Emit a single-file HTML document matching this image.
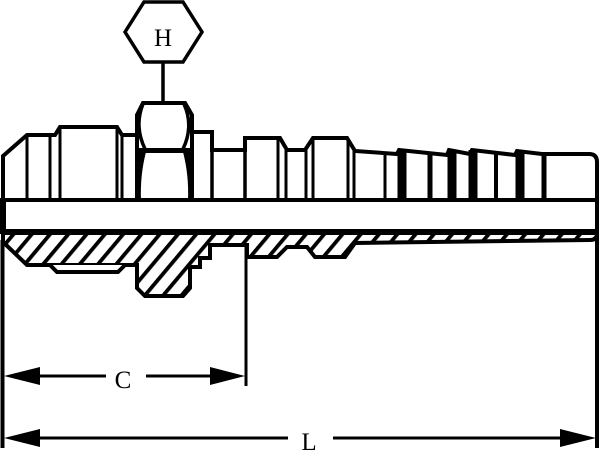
<!DOCTYPE html>
<html>
<head>
<meta charset="utf-8">
<style>
  html,body{margin:0;padding:0;background:#fff;}
  svg{display:block;}
  text{font-family:"Liberation Serif", serif;fill:#000;}
</style>
</head>
<body>
<svg width="600" height="459" viewBox="0 0 600 459" xmlns="http://www.w3.org/2000/svg">
  <defs>
    <pattern id="hatch" patternUnits="userSpaceOnUse" width="14" height="10" patternTransform="rotate(40)">
      <rect x="5" y="-1" width="3.8" height="12" fill="#000"/>
    </pattern>
  </defs>
  <rect x="0" y="0" width="600" height="459" fill="#fff"/>

  <!-- H hexagon label -->
  <polygon points="125,32 144,2 183,2 202,32 183,62 144,62" fill="#fff" stroke="#000" stroke-width="3.5" stroke-linejoin="miter"/>
  <text x="163" y="46" font-size="25" text-anchor="middle">H</text>
  <line x1="163" y1="62" x2="163" y2="103" stroke="#000" stroke-width="3.5"/>

  <!-- Lower sectioned (hatched) half -->
  <path d="M3,233 L3,242 L27,265 L137,265 L137,288 L145,296 L183,296 L190,288 L190,267 L200,267 L200,258 L210,258 L210,245 L247,245 L247,257 L277,257 L287,247 L307,247 L315,257 L345,257 L355,243 L590,240 Q597,240 597,234 L597,233 Z"
        fill="url(#hatch)" stroke="#000" stroke-width="4" stroke-linejoin="miter"/>
  <!-- thread relief below -->
  <path d="M50,265 L57,272 L118,272 L125,265" fill="#fff" stroke="#000" stroke-width="4"/>

  <!-- Upper outline -->
  <path d="M3,233 L3,156 L27,135 L55,135 L60,127 L117,127 L122,135 L137,135 L137,115 L143,103 L185,103 L192,115 L192,132 L212,132 L212,150 L245,150 L245,138 L280,138 L287,150 L305,150 L313,138 L347,138 L355,151 L397,154 L399,150 L447,155 L449,150 L470,154 L472,150 L515,155 L517,151 L542,154 L589,154 Q597,154 597,162 L597,234"
        fill="none" stroke="#000" stroke-width="4" stroke-linejoin="miter"/>

  <!-- bore lines -->
  <line x1="3" y1="200" x2="597" y2="200" stroke="#000" stroke-width="4"/>
  <line x1="0" y1="231.5" x2="597" y2="231.5" stroke="#000" stroke-width="5"/>
  <rect x="0" y="198" width="6" height="36" fill="#000"/>

  <!-- vertical lines upper half -->
  <g stroke="#000">
    <line x1="27" y1="135" x2="27" y2="200" stroke-width="3"/>
    <line x1="50" y1="135" x2="50" y2="200" stroke-width="3"/>
    <line x1="60" y1="127" x2="60" y2="200" stroke-width="3"/>
    <line x1="117" y1="127" x2="117" y2="200" stroke-width="3"/>
    <line x1="122" y1="135" x2="122" y2="200" stroke-width="3"/>
    <line x1="137" y1="133" x2="137" y2="200" stroke-width="4"/>
    <line x1="192" y1="130" x2="192" y2="200" stroke-width="4"/>
    <line x1="212" y1="132" x2="212" y2="200" stroke-width="3.5"/>
    <line x1="245" y1="148" x2="245" y2="200" stroke-width="3.5"/>
    <line x1="278" y1="138" x2="278" y2="200" stroke-width="3"/>
    <line x1="286" y1="150" x2="286" y2="200" stroke-width="3"/>
    <line x1="306" y1="150" x2="306" y2="200" stroke-width="3"/>
    <line x1="313" y1="138" x2="313" y2="200" stroke-width="3"/>
    <line x1="348" y1="138" x2="348" y2="200" stroke-width="3"/>
    <line x1="354" y1="151" x2="354" y2="200" stroke-width="3"/>
    <line x1="385" y1="152" x2="385" y2="200" stroke-width="3"/>
    <line x1="402" y1="150" x2="402" y2="200" stroke-width="9"/>
    <line x1="430" y1="152" x2="430" y2="200" stroke-width="5"/>
    <line x1="452" y1="150" x2="452" y2="200" stroke-width="9"/>
    <line x1="473" y1="150" x2="473" y2="200" stroke-width="9"/>
    <line x1="496" y1="152" x2="496" y2="200" stroke-width="4"/>
    <line x1="520" y1="150" x2="520" y2="200" stroke-width="9"/>
    <line x1="544" y1="152" x2="544" y2="200" stroke-width="5"/>
  </g>

  <!-- hex nut details -->
  <line x1="137" y1="150.5" x2="192" y2="150.5" stroke="#000" stroke-width="5"/>
  <path d="M143,104 Q134,126 145,149" fill="none" stroke="#000" stroke-width="3.5"/>
  <path d="M184,104 Q194,126 183,149" fill="none" stroke="#000" stroke-width="3.5"/>
  <path d="M137,152 L146,152 Q140,175 141,200 L137,200 Z" fill="#000"/>
  <path d="M192,152 L183,152 Q189,175 188,200 L192,200 Z" fill="#000"/>

  <!-- extension lines -->
  <line x1="2.5" y1="240" x2="2.5" y2="448" stroke="#000" stroke-width="4"/>
  <line x1="246" y1="245" x2="246" y2="386" stroke="#000" stroke-width="3"/>
  <line x1="597" y1="234" x2="597" y2="448" stroke="#000" stroke-width="4"/>

  <!-- C dimension -->
  <polygon points="4,376 40,367 40,385" fill="#000"/>
  <line x1="40" y1="376" x2="106" y2="376" stroke="#000" stroke-width="3"/>
  <text x="123" y="388" font-size="25" text-anchor="middle">C</text>
  <line x1="146" y1="376" x2="211" y2="376" stroke="#000" stroke-width="3"/>
  <polygon points="245,376 210,367 210,385" fill="#000"/>

  <!-- L dimension -->
  <polygon points="4,438 40,429 40,447" fill="#000"/>
  <line x1="40" y1="438" x2="288" y2="438" stroke="#000" stroke-width="3"/>
  <text x="309" y="450" font-size="25" text-anchor="middle">L</text>
  <line x1="333" y1="438" x2="561" y2="438" stroke="#000" stroke-width="3"/>
  <polygon points="596,438 560,429 560,447" fill="#000"/>
</svg>
</body>
</html>
